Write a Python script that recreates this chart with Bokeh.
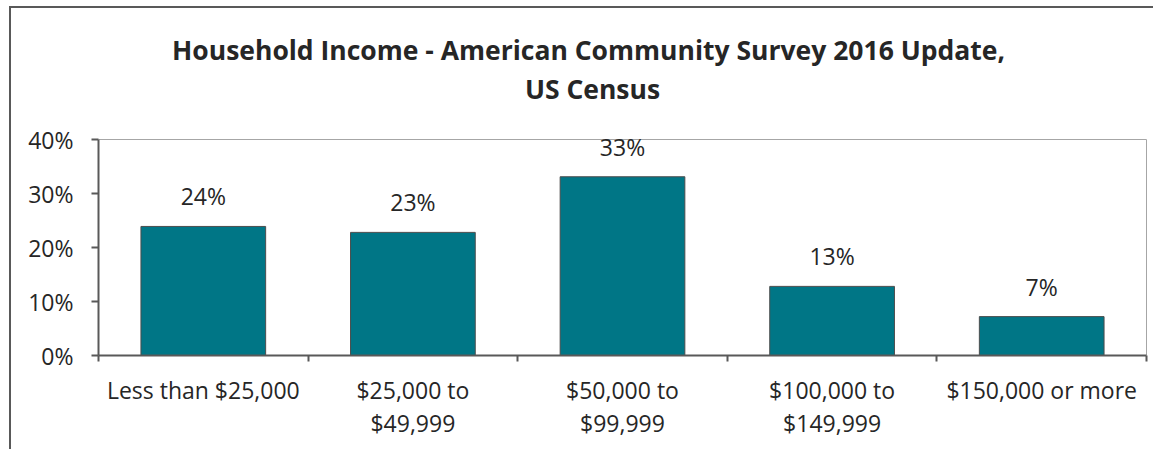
from bokeh.plotting import figure
from bokeh.models import ColumnDataSource, FixedTicker, Range1d
from bokeh.core.properties import value
from bokeh.embed import file_html
from bokeh.resources import INLINE

title_lines = ["Household Income - American Community Survey 2016 Update,", "US Census"]
categories = ["Less than $25,000", "$25,000 to\n$49,999", "$50,000 to\n$99,999",
              "$100,000 to\n$149,999", "$150,000 or more"]
shares = [23.9, 22.8, 33.1, 12.8, 7.2]
y_ticks = [0, 10, 20, 30, 40]

FONT = "Open Sans"
TXT = "#262626"
BAR = "#007686"
AX = "#595959"
N = len(categories)
Y_MAX = 40
Y_TOP = 64.26      # frame extends above the plot area to hold the title
X_END = N * 1052 / 1048

xs = [i + 0.5 for i in range(N)]
bounds = list(range(N + 1))
src = ColumnDataSource(dict(x=xs, top=shares,
                            lab=[f"{round(v):.0f}%" for v in shares]))

p = figure(width=1144, height=443, output_backend="svg", toolbar_location=None,
           x_range=Range1d(0, X_END), y_range=Range1d(0, Y_TOP),
           min_border_left=87, min_border_right=5, min_border_top=0, min_border_bottom=96)
p.styles = {"border-left": f"2px solid {AX}", "border-top": f"2px solid {AX}",
            "margin-left": "9px", "margin-top": "6px"}
p.grid.visible = False
p.outline_line_color = None

# plot-area outline (top and right sides)
p.line(x=[0, N, N], y=[Y_MAX, Y_MAX, 0], line_color="#A6A6A6", line_width=1)

p.vbar(x="x", top="top", width=0.595, source=src, fill_color=BAR,
       line_color="#4d4d4d", line_width=1)
p.text(x="x", y="top", text="lab", source=src, y_offset=-30, text_align="center",
       text_baseline="middle", text_font=value(FONT), text_font_size="23px", text_color=TXT)

# title
p.text(x=[N / 2, N / 2], y=[Y_MAX, Y_MAX], text=title_lines, x_offset=[-34, -30],
       y_offset=[-90, -51], text_align="center", text_baseline="middle",
       text_font=value(FONT), text_font_style="bold", text_font_size="26.5px",
       text_color=TXT)

# y axis
ya = p.yaxis[0]
ya.ticker = FixedTicker(ticks=y_ticks)
ya.bounds = (0, Y_MAX)
ya.major_label_overrides = {t: f"{t}%" for t in y_ticks}
ya.major_label_text_font = FONT
ya.major_label_text_font_size = "23px"
ya.major_label_text_color = TXT
ya.major_tick_out = 7
ya.major_tick_in = 0
ya.minor_tick_out = 0
ya.minor_tick_in = 0
ya.major_label_standoff = 18
ya.axis_line_color = AX
ya.major_tick_line_color = AX
ya.axis_line_width = 2
ya.major_tick_line_width = 2

# x axis: labels at category centres, minor ticks at category boundaries
xa = p.xaxis[0]
xa.ticker = FixedTicker(ticks=xs, minor_ticks=bounds)
xa.bounds = (0, N)
xa.major_label_overrides = {x: c for x, c in zip(xs, categories)}
xa.major_label_text_font = FONT
xa.major_label_text_font_size = "23px"
xa.major_label_text_line_height = 1.05
xa.major_label_text_color = TXT
xa.major_label_standoff = 12
xa.major_tick_line_color = None
xa.major_tick_out = 0
xa.major_tick_in = 0
xa.minor_tick_out = 6
xa.minor_tick_in = 0
xa.minor_tick_line_color = AX
xa.minor_tick_line_width = 2
xa.axis_line_color = AX
xa.axis_line_width = 2

open("out.html", "w").write(file_html(p, INLINE))
